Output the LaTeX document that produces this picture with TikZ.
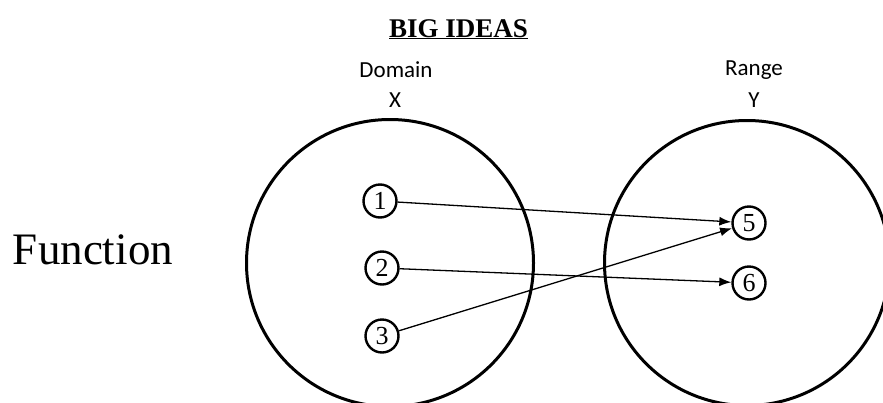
\documentclass[tikz,border=0pt]{standalone}
\usepackage{fontspec}
\setmainfont{Liberation Serif}
\newfontfamily\labelfont{Carlito}
\usetikzlibrary{arrows.meta}
\tikzset{
  bigset/.style={draw=black, line width=3pt, circle, minimum size=#1, inner sep=0pt},
  elem/.style={draw=black, line width=2.4pt, circle, minimum size=33pt, inner sep=0pt,
    font=\fontsize{26}{26}\selectfont},
  maparrow/.style={draw=black, line width=1.3pt, -{Latex[length=12pt,width=9pt]}},
  setlabel/.style={font=\labelfont\fontsize{23}{27}\selectfont, align=center, inner sep=0pt},
}
\begin{document}
\begin{tikzpicture}[x=1pt,y=-1pt]
\useasboundingbox (0,0) rectangle (883,402);
\clip (0,0) rectangle (883,402);
\node[inner sep=0pt, anchor=base east, font=\bfseries\fontsize{27}{27}\selectfont] (title) at (528,37) {\underline{BIG IDEAS}};
\node[setlabel] (domain) at (396,70) {Domain};
\node[setlabel] (xlab) at (395,100) {X};
\node[setlabel] (range) at (754,70) {Range};
\node[setlabel] (ylab) at (754,100) {Y};
\node[inner sep=0pt, font=\fontsize{45}{45}\selectfont] (func) at (93,250) {Function};
\node[bigset=287pt] (X) at (390,263) {};
\node[bigset=285pt] (Y) at (747,263) {};
\node[elem] (e1) at (380,201) {1};
\node[elem] (e2) at (382,268) {2};
\node[elem] (e3) at (382,336) {3};
\node[elem] (e5) at (749,223) {5};
\node[elem] (e6) at (749,283) {6};
\draw[maparrow] (e1) -- (e5);
\draw[maparrow] (e2) -- (e6);
\draw[maparrow] (e3) -- (e5);
\end{tikzpicture}
\end{document}
